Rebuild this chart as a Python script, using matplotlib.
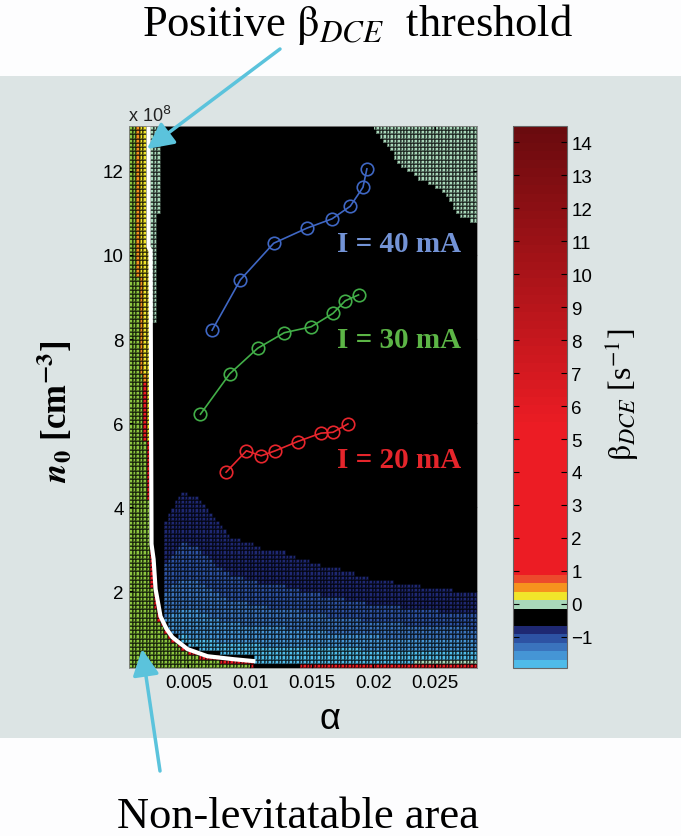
import numpy as np
import matplotlib
matplotlib.use('Agg')
import matplotlib.pyplot as plt
from matplotlib.colors import ListedColormap, Normalize, to_rgb
from matplotlib.patches import Rectangle, FancyArrowPatch

plt.rcParams['font.family'] = ['Liberation Sans', 'DejaVu Sans']

# measured beta_DCE = 0 points for the three discharge currents (alpha, n0 in 1e8 cm^-3)
alpha_40 = [0.00692, 0.00921, 0.01191, 0.01461, 0.01664, 0.01812, 0.01915, 0.01947]
n0_40 = [8.21, 9.41, 10.28, 10.64, 10.86, 11.16, 11.61, 12.05]
alpha_30 = [0.00597, 0.00834, 0.01061, 0.01277, 0.01494, 0.01672, 0.01771, 0.01879]
n0_30 = [6.21, 7.17, 7.78, 8.15, 8.29, 8.61, 8.91, 9.05]
alpha_20 = [0.00805, 0.00970, 0.01089, 0.01204, 0.01385, 0.01575, 0.01672, 0.01793]
n0_20 = [4.83, 5.34, 5.22, 5.34, 5.56, 5.76, 5.78, 5.98]
labels = ['I = 40 mA', 'I = 30 mA', 'I = 20 mA']

# positive beta threshold (white line)
thr_alpha = [0.00176, 0.00176, 0.00192, 0.00200, 0.00217, 0.00233, 0.00273,
             0.00322, 0.00370, 0.00492, 0.00654, 0.00864, 0.01043]
thr_n0 = [13.07, 10.19, 10.10, 3.12, 2.76, 2.05, 1.40, 1.10, 0.90, 0.62, 0.45, 0.38, 0.33]

# edge of the non-levitatable (green) area in the upper part
green_n0 = [3.07, 4.60, 6.10, 7.69, 9.74, 13.07]
green_alpha = [0.00192, 0.00168, 0.00136, 0.00111, 0.00087, 0.00079]

# beta ~ 0 strip right of the threshold (lower n0 limit, right alpha edge)
strip_n0 = [8.4, 11.0]
strip_alpha = [0.00249, 0.00273]

# beta ~ 0 corner at high alpha / high n0
corner_alpha = [0.0199, 0.02136, 0.02217, 0.02378, 0.0254, 0.02621, 0.02702, 0.0284]
corner_n0 = [13.07, 12.52, 12.12, 11.81, 11.57, 11.26, 10.93, 10.74]

# upper edge of the negative beta (blue) dome
dome_alpha = [0.00298, 0.0033, 0.0046, 0.00597, 0.0073, 0.00864, 0.0100, 0.01083,
              0.0127, 0.01407, 0.01609, 0.01828, 0.01949, 0.0220, 0.02459, 0.0284]
dome_n0 = [3.55, 3.9, 4.48, 4.25, 3.71, 3.31, 3.24, 3.07,
           3.0, 2.83, 2.64, 2.50, 2.36, 2.24, 2.12, 1.98]

# colour map of the figure (64 levels)
blues = ['#4fbbe9', '#4595d5', '#3a73bd', '#2d52a3', '#1e2872']
r0 = np.array(to_rgb('#ec1c24'))
r1 = np.array(to_rgb('#6a0b0e'))
reds = [r0] * 17 + [r0 + (r1 - r0) * t for t in np.linspace(0, 1, 36)]
colors = [to_rgb(c) for c in blues + ['#000000', '#000000', '#a9d8ba', '#f1e52a', '#f6921e', '#ec4a2c']] + reds
cmap = ListedColormap(colors)
cmap.set_bad('#8cc63f')
norm = Normalize(vmin=-1.95, vmax=14.5)

# grid of the beta map
x_edges = np.linspace(0.0002, 0.0284, 101)
y_edges = np.linspace(0.17, 13.07, 130)
dx = x_edges[1] - x_edges[0]
XC, YC = np.meshgrid((x_edges[:-1] + x_edges[1:]) / 2, (y_edges[:-1] + y_edges[1:]) / 2)

x_thr = np.interp(YC, thr_n0[::-1], thr_alpha[::-1])
y_thr = np.interp(XC, thr_alpha, thr_n0, right=0.17)
inside = XC < x_thr

beta = np.full(XC.shape, -0.4)

strip_w = np.where(YC > strip_n0[1], strip_alpha[1], np.where(YC > strip_n0[0], strip_alpha[0], 0))
beta[~inside & (XC < strip_w)] = 0.0

corner = (XC >= corner_alpha[0]) & (YC > np.interp(XC, corner_alpha, corner_n0))
beta[corner] = 0.0

top = np.interp(XC, dome_alpha, dome_n0)
blue = (XC >= dome_alpha[0]) & (YC < top) & (YC - y_thr > 0.1) & (YC > 0.27) & ~inside
s = np.clip((top - YC) / (top - 0.3), 0, 1)
beta[blue] = np.maximum(-0.66 - 1.3 * s[blue] ** 1.4, -1.93)

beta[(YC > 0.27) & (YC < 0.37) & (XC >= 0.0234)] = 0.0
beta[(YC < 0.27) & (XC >= 0.0139)] = 3.0

x_green = np.interp(YC, green_n0, green_alpha)
vert = inside & (YC > 3.1) & (XC > x_green)
left_col = vert & (XC - dx < x_green)
right_out = np.ones_like(inside)
right_out[:, :-1] = ~inside[:, 1:]
up_out = np.ones_like(inside)
up_out[:-1, :] = ~inside[1:, :]
curve_band = inside & (YC <= 3.1) & (right_out | up_out)

beta[inside] = np.nan
beta[vert] = 0.25
beta[left_col & (YC > 7)] = 0.5
beta[left_col & (YC <= 7)] = 3.0
beta[curve_band] = 3.0

W, H = 681, 837
fig = plt.figure(figsize=(W / 100, H / 100), dpi=100, facecolor='#fdfdfe')
fig.add_artist(Rectangle((0, (H - 739) / H), 1, (739 - 77) / H, transform=fig.transFigure,
                         facecolor='#dce4e4', edgecolor='none', zorder=-10))

ax = fig.add_axes([129.3 / W, (H - 669) / H, (477 - 129.3) / W, (669 - 127) / H])
mesh = ax.pcolormesh(x_edges, y_edges, np.ma.masked_invalid(beta), cmap=cmap, norm=norm,
                     edgecolors=(0, 0, 0, 0.45), linewidth=0.2)
ax.plot(thr_alpha, thr_n0, color='white', lw=3, solid_capstyle='butt')

for a, n, c in [(alpha_40, n0_40, '#3f67c4'), (alpha_30, n0_30, '#42ae48'), (alpha_20, n0_20, '#e8262d')]:
    ax.plot(a, n, '-o', color=c, mfc='none', ms=9, lw=1.2, mew=1.2)

for lab, yb, c in zip(labels, [10.10, 7.81, 4.95], ['#7393d6', '#5cb546', '#e5252b']):
    ax.text(0.01707, yb, lab, color=c, fontsize=21, fontweight='bold',
            family='Liberation Serif', ha='left', va='baseline')

ax.set_xlim(0.0002, 0.0284)
ax.set_ylim(0.17, 13.07)
ax.set_xticks([0.005, 0.01, 0.015, 0.02, 0.025])
ax.set_xticklabels(['0.005', '0.01', '0.015', '0.02', '0.025'])
ax.set_yticks([2, 4, 6, 8, 10, 12])
ax.tick_params(direction='in', length=3, labelsize=13.5, top=True, right=True, pad=4)
for sp in ax.spines.values():
    sp.set_color('#888888')
    sp.set_linewidth(0.6)

cax = fig.add_axes([513 / W, (H - 669) / H, 54 / W, 542 / H])
cbar = fig.colorbar(mesh, cax=cax, ticks=range(-1, 15))
cbar.outline.set_edgecolor('#666666')
cbar.outline.set_linewidth(0.8)
cax.tick_params(direction='in', left=True, right=True, length=4, width=0.8, labelsize=13.5, pad=3)

fig.text(128 / W, (H - 122) / H, r'x 10$^8$', fontsize=13, color='#222222')
fig.text(55 / W, (H - 412) / H, r'$\mathbfit{n}_{\mathbf{0}}$ [cm$^{\mathbf{-3}}$]', rotation=90,
         ha='center', va='center', fontsize=25, fontweight='bold', family='Liberation Serif',
         math_fontfamily='stix')
fig.text(622 / W, (H - 395) / H, r'$\mathrm{\beta}_{DCE}$ [s$^{-1}$]', rotation=90, ha='center',
         va='center', fontsize=23, family='Liberation Serif', math_fontfamily='stix')
fig.text(330 / W, (H - 720) / H, 'α', ha='center', va='center', fontsize=26)

fig.text(357 / W, (H - 36) / H, r'Positive $\mathrm{\beta}_{DCE}$  threshold', ha='center',
         va='baseline', fontsize=32, family='Liberation Serif', math_fontfamily='stix')
fig.text(298 / W, (H - 828) / H, 'Non-levitatable area', ha='center', va='baseline',
         fontsize=32, family='Liberation Serif')

arrow = dict(arrowstyle='-|>,head_length=0.8,head_width=0.4', mutation_scale=20,
             color='#5bc3dc', lw=2.5, shrinkA=0, shrinkB=0, transform=fig.transFigure, zorder=20)
fig.add_artist(FancyArrowPatch((280 / W, (H - 50) / H), (147 / W, (H - 150) / H), **arrow))
fig.add_artist(FancyArrowPatch((160 / W, (H - 772) / H), (142 / W, (H - 650) / H), **arrow))

fig.savefig('out.png', dpi=100, facecolor=fig.get_facecolor())
